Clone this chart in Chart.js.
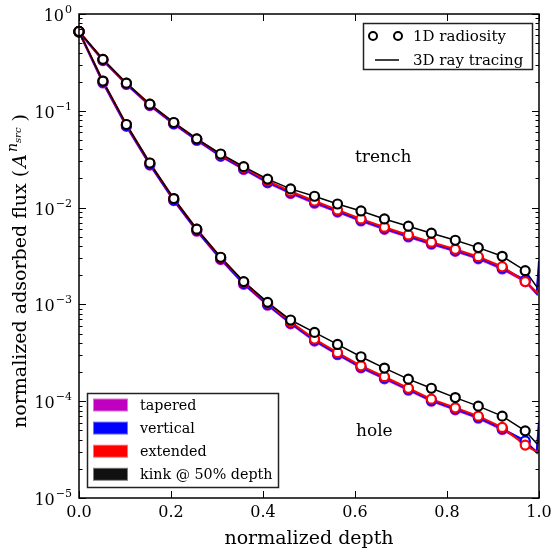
<!DOCTYPE html>
<html>
<head>
<meta charset="utf-8">
<script src="https://cdn.jsdelivr.net/npm/chart.js@4.4.0/dist/chart.umd.min.js"></script>
<style>
  html, body { margin: 0; padding: 0; background: #fff; }
</style>
</head>
<body>
<canvas id="fluxChart" width="551" height="555"></canvas>
<script>
// radiosity sample depths (normalized), shared by every geometry
const depth = [0, 0.052, 0.103, 0.154, 0.206, 0.256, 0.308, 0.358, 0.41, 0.46,
               0.512, 0.562, 0.613, 0.664, 0.716, 0.766, 0.818, 0.868, 0.92, 0.97];
// ray tracing keeps going down to the bottom
const tailDepth = [0.995, 1.0];

// trench
const trenchTapered  = [0.65, 0.33, 0.187, 0.113, 0.0728, 0.0494, 0.0338, 0.0248, 0.018, 0.014,
                        0.0111, 0.009, 0.00728, 0.00597, 0.00497, 0.00418, 0.00353, 0.00296, 0.00232, 0.00172];
const trenchVertical = [0.655, 0.335, 0.19, 0.115, 0.074, 0.0502, 0.0344, 0.0253, 0.0184, 0.0143,
                        0.0114, 0.0092, 0.00745, 0.00611, 0.00509, 0.00428, 0.00362, 0.00303, 0.00238, 0.00178];
const trenchExtended = [0.66, 0.34, 0.193, 0.117, 0.0757, 0.0513, 0.0352, 0.026, 0.0189, 0.0147,
                        0.0117, 0.00946, 0.00764, 0.00627, 0.00522, 0.00439, 0.00371, 0.00311, 0.00245, 0.00172];
const trenchKink     = [0.66, 0.34, 0.193, 0.117, 0.0757, 0.0513, 0.0358, 0.0265, 0.0197, 0.0156,
                        0.0131, 0.0109, 0.00924, 0.00764, 0.00643, 0.00544, 0.0046, 0.00386, 0.00314, 0.00223];
const trenchTaperedTail  = [0.00128, 0.0024];
const trenchVerticalTail = [0.0013, 0.0028];
const trenchExtendedTail = [0.00134, 0.0014];
const trenchKinkTail     = [0.00152, 0.00158];

// hole
const holeTapered  = [0.65, 0.194, 0.069, 0.0275, 0.0118, 0.0057, 0.0029, 0.00161, 0.00098, 0.00063,
                      0.000418, 0.000302, 0.000221, 0.00017, 0.00013, 0.0001, 0.0000814, 0.0000667, 0.000051, 0.0000375];
const holeVertical = [0.655, 0.198, 0.0703, 0.0281, 0.012, 0.00582, 0.00297, 0.00165, 0.001, 0.000645,
                      0.000428, 0.000309, 0.000226, 0.000174, 0.000133, 0.000102, 0.0000833, 0.0000683, 0.0000522, 0.0000389];
const holeExtended = [0.66, 0.203, 0.0722, 0.0289, 0.0124, 0.00598, 0.00305, 0.0017, 0.00103, 0.000662,
                      0.000439, 0.000317, 0.000232, 0.000179, 0.000136, 0.000105, 0.0000855, 0.0000701, 0.0000536, 0.0000352];
const holeKink     = [0.66, 0.203, 0.0722, 0.0289, 0.0124, 0.00598, 0.00307, 0.00172, 0.00105, 0.00069,
                      0.000514, 0.000386, 0.000288, 0.00022, 0.000169, 0.000136, 0.000109, 0.0000889, 0.0000701, 0.0000494];
const holeTaperedTail  = [0.00003, 0.000062];
const holeVerticalTail = [0.0000295, 0.000058];
const holeExtendedTail = [0.00003, 0.000031];
const holeKinkTail     = [0.0000366, 0.000038];

const xTicks = [0, 0.2, 0.4, 0.6, 0.8, 1.0];
const yTickExp = [0, -1, -2, -3, -4, -5];

const geometries = ['tapered', 'vertical', 'extended', 'kink @ 50% depth'];
const colors = ['#bf00bf', '#0000ff', '#ff0000', '#000000'];
const swatchColors = ['#bf00bf', '#0000ff', '#ff0000', '#111111'];

const SERIF = '"DejaVu Serif", "Liberation Serif", serif';

function pts(xs, ys) {
    return xs.map((x, i) => ({ x: x, y: ys[i] }));
}

const trench = [trenchTapered, trenchVertical, trenchExtended, trenchKink];
const trenchTails = [trenchTaperedTail, trenchVerticalTail, trenchExtendedTail, trenchKinkTail];
const hole = [holeTapered, holeVertical, holeExtended, holeKink];
const holeTails = [holeTaperedTail, holeVerticalTail, holeExtendedTail, holeKinkTail];

// lines first (underneath), markers on top; black drawn last
const datasets = [];
[[trench, trenchTails], [hole, holeTails]].forEach(([vals, tails]) => {
    vals.forEach((v, g) => {
        datasets.push({
            label: geometries[g] + ' ray',
            data: pts(depth.concat(tailDepth), v.concat(tails[g])),
            borderColor: colors[g],
            borderWidth: g === 3 ? 1.5 : 2,
            pointRadius: 0,
            tension: 0,
            fill: false,
            order: 20 - g
        });
        datasets.push({
            label: geometries[g] + ' radiosity',
            data: pts(depth, v),
            showLine: false,
            pointRadius: 4.5,
            pointBorderWidth: 2.2,
            pointBackgroundColor: '#ffffff',
            pointBorderColor: colors[g],
            borderColor: colors[g],
            clip: 8,
            order: 10 - g
        });
    });
});

// frame, inward ticks, labels and the two legends
const fluxDecor = {
    id: 'fluxDecor',
    afterDraw(chart) {
        const ctx = chart.ctx;
        const a = chart.chartArea;
        const x = chart.scales.x, y = chart.scales.y;
        ctx.save();
        ctx.strokeStyle = '#000';
        ctx.lineWidth = 1;

        function seg(x1, y1, x2, y2) {
            ctx.beginPath();
            ctx.moveTo(x1, y1);
            ctx.lineTo(x2, y2);
            ctx.stroke();
        }

        xTicks.forEach(v => {
            const px = Math.round(x.getPixelForValue(v)) + 0.5;
            seg(px, a.bottom, px, a.bottom - 7);
            seg(px, a.top, px, a.top + 7);
        });
        yTickExp.forEach(e => {
            const py = Math.round(y.getPixelForValue(Math.pow(10, e))) + 0.5;
            seg(a.left, py, a.left + 7, py);
            seg(a.right, py, a.right - 7, py);
            if (e < 0) {
                for (let m = 2; m <= 9; m++) {
                    const q = Math.round(y.getPixelForValue(m * Math.pow(10, e))) + 0.5;
                    seg(a.left, q, a.left + 3.5, q);
                    seg(a.right, q, a.right - 3.5, q);
                }
            }
            // 10^e label
            const base = '16px ' + SERIF, exp = '11px ' + SERIF;
            const es = e === 0 ? '0' : '\u2212' + (-e);
            ctx.font = exp;
            const ew = ctx.measureText(es).width;
            ctx.font = base;
            const bw = ctx.measureText('10').width;
            const right = a.left - 7;
            ctx.fillStyle = '#000';
            ctx.textBaseline = 'alphabetic';
            ctx.textAlign = 'left';
            ctx.fillText('10', right - ew - bw - 1, py + 6);
            ctx.font = exp;
            ctx.fillText(es, right - ew, py - 2);
        });

        ctx.lineWidth = 1.5;
        ctx.strokeRect(a.left, a.top, a.right - a.left, a.bottom - a.top);

        // y axis title with A^{n_src}
        const parts = [
            { t: 'normalized adsorbed flux ', f: '19px ' + SERIF, dy: 0, gap: 0 },
            { t: '(', f: '19px ' + SERIF, dy: 0, gap: 2 },
            { t: 'A', f: 'italic 19px ' + SERIF, dy: 0, gap: 2 },
            { t: 'n', f: 'italic 14px ' + SERIF, dy: -9, gap: 0 },
            { t: 'src', f: 'italic 10px ' + SERIF, dy: -5, gap: 6 },
            { t: ')', f: '19px ' + SERIF, dy: 0, gap: 0 }
        ];
        let tw = 0;
        parts.forEach(p => { ctx.font = p.f; p.w = ctx.measureText(p.t).width; tw += p.w + p.gap; });
        ctx.save();
        ctx.translate(19, 271);
        ctx.rotate(-Math.PI / 2);
        let cx = -tw / 2;
        parts.forEach(p => {
            ctx.font = p.f;
            ctx.fillText(p.t, cx, 7 + p.dy);
            cx += p.w + p.gap;
        });
        ctx.restore();

        // curve names
        ctx.font = '17px ' + SERIF;
        ctx.fillText('trench', 355, 162);
        ctx.fillText('hole', 356, 436);

        // legend: method
        ctx.fillStyle = '#fff';
        ctx.fillRect(363, 23, 170, 47);
        ctx.lineWidth = 1.5;
        ctx.strokeStyle = '#222';
        ctx.strokeRect(363.5, 23.5, 169, 46);
        ctx.strokeStyle = '#000';
        ctx.lineWidth = 2;
        [373, 398].forEach(mx => {
            ctx.beginPath();
            ctx.arc(mx, 36, 4, 0, Math.PI * 2);
            ctx.fillStyle = '#fff';
            ctx.fill();
            ctx.stroke();
        });
        ctx.lineWidth = 1.5;
        seg(375, 60, 399, 60);
        ctx.fillStyle = '#000';
        ctx.font = '15px ' + SERIF;
        ctx.fillText('1D radiosity', 413, 41);
        ctx.fillText('3D ray tracing', 413, 65);

        // legend: geometry
        ctx.fillStyle = '#fff';
        ctx.fillRect(87, 393, 192, 95);
        ctx.strokeStyle = '#222';
        ctx.lineWidth = 1.5;
        ctx.strokeRect(87.5, 393.5, 191, 94);
        ctx.font = '14.3px ' + SERIF;
        geometries.forEach((name, i) => {
            const cy = 405 + i * 23.1;
            ctx.fillStyle = swatchColors[i];
            ctx.globalAlpha = 0.55;
            ctx.fillRect(93, cy - 6.5, 35, 13);
            ctx.globalAlpha = 1;
            ctx.fillRect(94, cy - 5.5, 33, 11);
            ctx.fillStyle = '#000';
            ctx.fillText(name, 140, cy + 5);
        });
        ctx.restore();
    }
};

new Chart(document.getElementById('fluxChart'), {
    type: 'line',
    data: { datasets: datasets },
    options: {
        responsive: false,
        animation: false,
        devicePixelRatio: 1,
        layout: { padding: { top: 14, right: 12, left: 0, bottom: 0 } },
        plugins: {
            legend: { display: false },
            tooltip: { enabled: false }
        },
        scales: {
            x: {
                type: 'linear',
                min: 0,
                max: 1,
                grid: { display: false, drawTicks: false },
                border: { display: false },
                ticks: {
                    stepSize: 0.2,
                    padding: 5,
                    color: '#000',
                    font: { family: SERIF, size: 16 },
                    callback: v => v.toFixed(1)
                },
                title: {
                    display: true,
                    text: 'normalized depth',
                    color: '#000',
                    font: { family: SERIF, size: 19 },
                    padding: { top: 0, bottom: 5 }
                },
                // let the last tick label run past the edge instead of shrinking the plot
                afterFit: s => { s.height = 57; s.paddingLeft = 0; s.paddingRight = 0; }
            },
            y: {
                type: 'logarithmic',
                min: 1e-5,
                max: 1,
                grid: { display: false, drawTicks: false },
                border: { display: false },
                ticks: { display: false },
                afterFit: s => { s.width = 79; }
            }
        }
    },
    plugins: [fluxDecor]
});
</script>
</body>
</html>
